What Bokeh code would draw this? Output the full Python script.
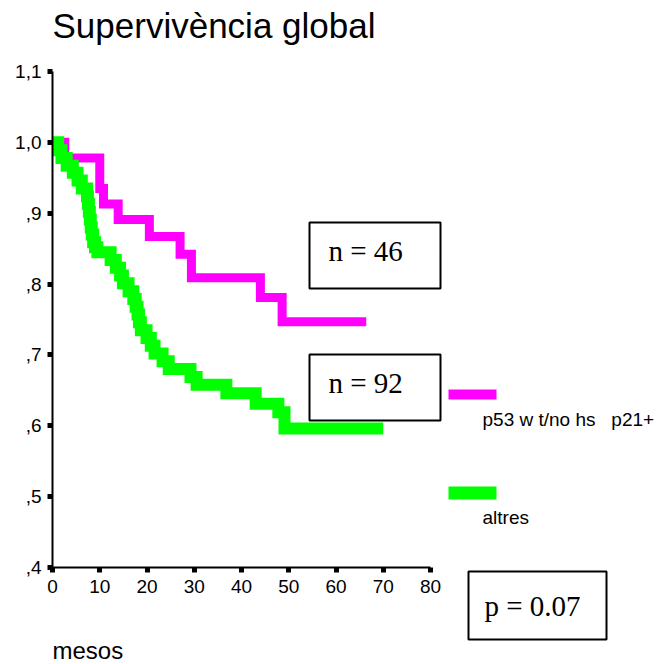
from bokeh.plotting import figure
from bokeh.models import Range1d, LinearAxis, FixedTicker, Label
from bokeh.layouts import row, column
from bokeh.core.properties import value
from bokeh.embed import file_html
from bokeh.resources import INLINE

# ---------------- data ----------------
# Kaplan-Meier steps (months, cumulative survival)
p53_months = [0, 2.6, 10.0, 10.8, 13.9, 20.5, 27.0, 29.4, 44.0, 48.6, 66.4]
p53_surv = [1.0, 0.978, 0.935, 0.913, 0.891, 0.867, 0.842, 0.809, 0.781, 0.747, 0.747]

altres_months = [0, 1.2, 1.9, 3.0, 4.3, 5.3, 6.2, 7.3, 7.5, 7.7, 7.9, 8.1, 8.3, 8.6, 9.0, 9.5,
                 12.3, 13.4, 14.3, 14.9, 16.1, 17.1, 17.6, 18.0, 18.3, 18.7, 19.9, 20.8, 21.6,
                 23.3, 24.6, 29.2, 30.5, 36.8, 43.0, 47.8, 49.1, 70.0]
altres_surv = [1.0, 0.989, 0.978, 0.967, 0.957, 0.946, 0.935, 0.924, 0.913, 0.902, 0.891, 0.880,
               0.870, 0.859, 0.852, 0.845, 0.834, 0.823, 0.812, 0.801, 0.790, 0.779, 0.768, 0.757,
               0.746, 0.735, 0.724, 0.713, 0.702, 0.691, 0.680, 0.669, 0.658, 0.646, 0.631, 0.619,
               0.596, 0.596]

x_ticks = [0, 10, 20, 30, 40, 50, 60, 70, 80]
y_ticks = [0.4, 0.5, 0.6, 0.7, 0.8, 0.9, 1.0, 1.1]
y_tick_labels = [",4", ",5", ",6", ",7", ",8", ",9", "1,0", "1,1"]

title_text = "Supervivència global"
x_title = "mesos"
series_labels = ["p53 w t/no hs\u00a0\u00a0\u00a0p21+", "altres"]
n_texts = ["n = 46", "n = 92"]
p_text = "p = 0.07"

# ---------------- layout (page pixels) ----------------
W, H = 661, 664
MAIN_W = 446              # width of the chart panel
AX_LEFT, AX_BOTTOM = 52, 567          # pixel of x=0 and y=0.4
AXIS_PANEL = 34                       # height kept below the frame for the x axis
PX_PER_MONTH = 378 / 80.0
PX_PER_UNIT = 496 / 0.7
DESC = 0.212              # font descent (fraction of size), for "bottom" text baselines

def dx(px):
    return (px - AX_LEFT) / PX_PER_MONTH

def dy(py):
    return 0.4 + (AX_BOTTOM - py) / PX_PER_UNIT

MAGENTA = "#FF00FF"
GREEN = "#00FF00"
SANS = "Liberation Sans"
SERIF = "Liberation Serif"

def clean(fig):
    fig.outline_line_color = None
    fig.background_fill_color = "white"
    fig.border_fill_color = "white"
    fig.xgrid.visible = False
    fig.ygrid.visible = False

# ---------------- main chart ----------------
p = figure(frame_width=MAIN_W - AX_LEFT, frame_height=AX_BOTTOM,
           min_border_left=AX_LEFT, min_border_right=0, min_border_top=0,
           min_border_bottom=AXIS_PANEL,
           x_range=Range1d(0, dx(MAIN_W)), y_range=Range1d(0.4, dy(0)),
           x_axis_type=None, y_axis_type=None,
           output_backend="svg", toolbar_location=None)
clean(p)

def style_axis(ax):
    ax.axis_line_width = 2
    ax.axis_line_color = "black"
    ax.major_tick_line_width = 5
    ax.major_tick_line_cap = "butt"
    ax.major_tick_out = 5
    ax.major_tick_in = 0
    ax.minor_tick_line_color = None
    ax.major_label_text_font = SANS
    ax.major_label_text_font_size = "19px"
    ax.major_label_text_color = "black"

xaxis = LinearAxis(ticker=FixedTicker(ticks=x_ticks), bounds=(0, 80))
style_axis(xaxis)
xaxis.major_label_standoff = 7
p.add_layout(xaxis, "below")

yaxis = LinearAxis(ticker=FixedTicker(ticks=y_ticks), bounds=(0.4, 1.1),
                   major_label_overrides=dict(zip(y_ticks, y_tick_labels)))
style_axis(yaxis)
yaxis.major_label_standoff = 6
p.add_layout(yaxis, "left")

p.step(p53_months, p53_surv, mode="after", line_color=MAGENTA, line_width=9, line_join="miter")
p.step(altres_months, altres_surv, mode="after", line_color=GREEN, line_width=12, line_join="miter")

# n boxes
n_box_rows = [(222, 288, 260), (354, 420, 392)]
p.quad(left=[dx(309)] * 2, right=[dx(440)] * 2,
       top=[dy(b[0]) for b in n_box_rows], bottom=[dy(b[1]) for b in n_box_rows],
       fill_color=None, line_color="black", line_width=2)
for (top, bot, base), txt in zip(n_box_rows, n_texts):
    p.add_layout(Label(x=dx(328), y=dy(base + DESC * 29), text=txt, text_font=SERIF,
                       text_font_size="29px", text_color="black"))

p.add_layout(Label(x=dx(52), y=dy(37.5 + DESC * 35), text=title_text, text_font=SANS,
                   text_font_size="35px", text_color="black"))

# ---------------- strip under the chart: "mesos" ----------------
top_m = AX_BOTTOM + AXIS_PANEL
m = figure(width=MAIN_W, height=H - top_m,
           min_border_left=AX_LEFT, min_border_right=0, min_border_top=0, min_border_bottom=0,
           x_range=Range1d(AX_LEFT, MAIN_W), y_range=Range1d(H, top_m),
           x_axis_type=None, y_axis_type=None,
           output_backend="svg", toolbar_location=None)
clean(m)
m.text(x=[52], y=[658 + DESC * 24], text=[x_title], text_font=value(SANS), text_font_size="24px",
       text_color="black", text_baseline="bottom", text_align="left")

# ---------------- right panel: legend and p-value ----------------
r = figure(width=W - MAIN_W, height=H,
           min_border_left=0, min_border_right=0, min_border_top=0, min_border_bottom=0,
           x_range=Range1d(MAIN_W, W), y_range=Range1d(H, 0),
           x_axis_type=None, y_axis_type=None,
           output_backend="svg", toolbar_location=None)
clean(r)
swatch_rows = [(389, 399), (486, 499)]
r.quad(left=[448, 448], right=[496, 496],
       top=[s[0] for s in swatch_rows], bottom=[s[1] for s in swatch_rows],
       color=[MAGENTA, GREEN], line_color=None)
r.text(x=[482, 482], y=[425 + DESC * 19, 523 + DESC * 19], text=series_labels,
       text_font=value(SANS), text_font_size="19px", text_color="black",
       text_baseline="bottom", text_align="left")
r.quad(left=[468], right=[606], top=[571], bottom=[639],
       fill_color=None, line_color="black", line_width=2)
r.text(x=[484], y=[615 + DESC * 29], text=[p_text], text_font=value(SERIF),
       text_font_size="29px", text_color="black", text_baseline="bottom", text_align="left")

layout = row(column(p, m, spacing=0), r, spacing=0)
open("out.html", "w").write(file_html(layout, INLINE))
